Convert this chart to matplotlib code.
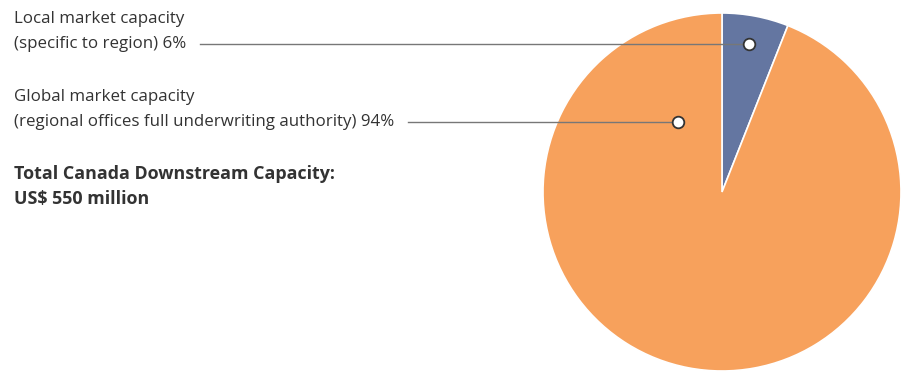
import numpy as np
import matplotlib.pyplot as plt

# capacity split (percent)
segments = ["Local market capacity", "Global market capacity"]
notes = ["(specific to region)", "(regional offices full underwriting authority)"]
shares = [6, 94]
total_title = "Total Canada Downstream Capacity:"
total_value = "US$ 550 million"

colors = ["#6476a1", "#f7a15c"]
text_color = "#333333"
W, H = 902, 372

fig = plt.figure(figsize=(W / 100, H / 100), dpi=100)
ax = fig.add_axes([0, 0, 1, 1])

cx, cy, r = 722, H - 192, 179
ax.pie(shares, colors=colors, startangle=90, counterclock=False,
       center=(cx, cy), radius=r,
       wedgeprops=dict(edgecolor="white", linewidth=1.2))
ax.set_xlim(0, W)
ax.set_ylim(0, H)
ax.set_aspect("equal")
ax.axis("off")

plt.rcParams["font.family"] = ["Open Sans", "DejaVu Sans"]
fs = 12.2

# callout anchor points inside each wedge: (angle from top, clockwise in deg, radius fraction)
anchors = [(10.3, 0.84), (-32.0, 0.46)]
label_y = [H - 19, H - 97]

fig.canvas.draw()
renderer = fig.canvas.get_renderer()
for name, note, share, (ang, frac), y in zip(segments, notes, shares, anchors, label_y):
    ax.text(14, y, name, fontsize=fs, color=text_color, va="center", ha="left")
    t = ax.text(14, y - 25, f"{note} {share}%", fontsize=fs, color=text_color,
                va="center", ha="left")
    bb = t.get_window_extent(renderer=renderer)
    x_end = ax.transData.inverted().transform((bb.x1, 0))[0]
    px = cx + frac * r * np.sin(np.radians(ang))
    py = cy + frac * r * np.cos(np.radians(ang))
    ax.plot([x_end + 14, px], [py, py], color="#777777", lw=1.0, zorder=3)
    ax.scatter([px], [py], s=70, facecolor="white", edgecolor="#333333",
               linewidth=1.3, zorder=4)

ax.text(14, H - 174, total_title, fontsize=12.9, fontweight="bold",
        color=text_color, va="center", ha="left")
ax.text(14, H - 199, total_value, fontsize=12.9, fontweight="bold",
        color=text_color, va="center", ha="left")

fig.savefig("out.png", dpi=100)
